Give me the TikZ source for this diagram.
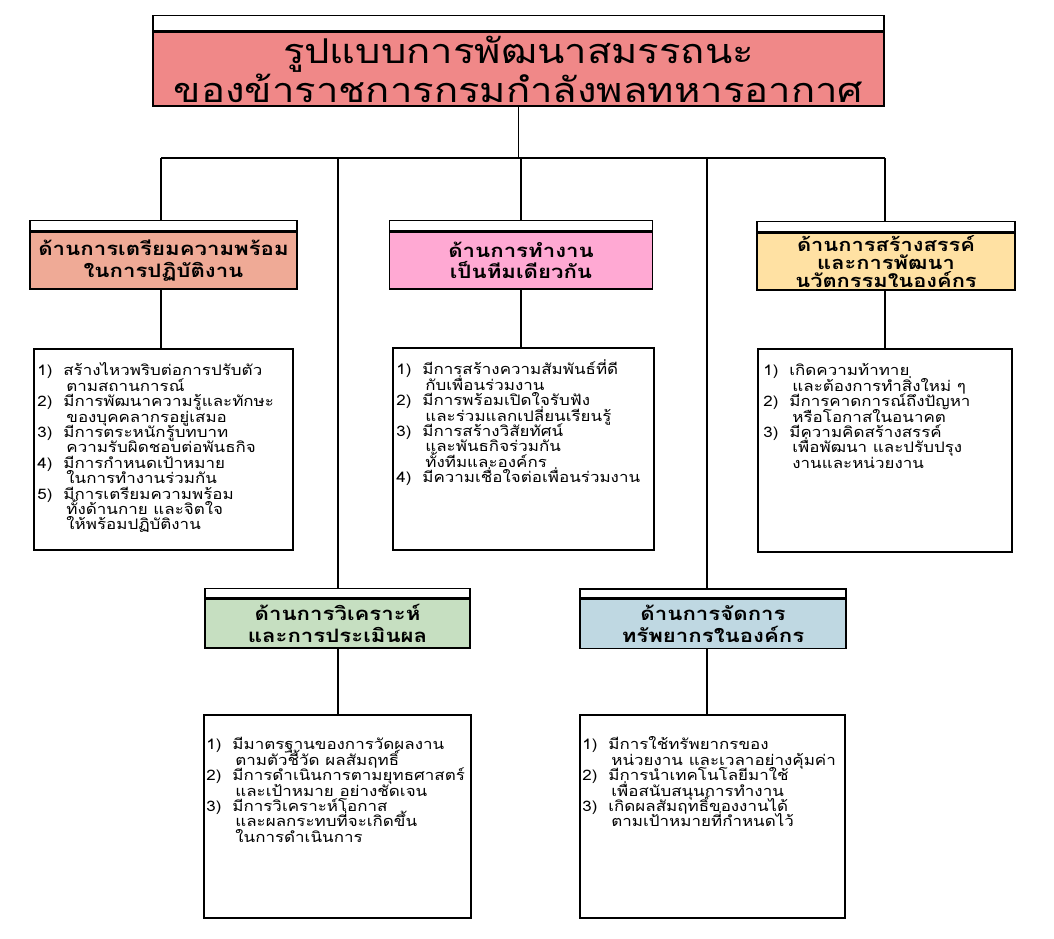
\documentclass[tikz,border=0pt]{standalone}
\usepackage{fontspec}
\setmainfont{Loma}[Script=Thai]
\newfontfamily\titleloma{Loma}[Script=Thai,FakeStretch=1.17]
\newfontfamily\wideloma{Loma}[Script=Thai,FakeStretch=1.2]
\newfontfamily\listloma{Loma}[Script=Thai,FakeStretch=1.17]
\usetikzlibrary{calc}
\definecolor{ctitle}{HTML}{F08888}
\definecolor{cone}{HTML}{EFAA96}
\definecolor{ctwo}{HTML}{FFA9D3}
\definecolor{cthree}{HTML}{FFE1A3}
\definecolor{cfour}{HTML}{C6DFC1}
\definecolor{cfive}{HTML}{BFD8E2}
\newcommand{\titlefont}{\titleloma\fontsize{34.2}{39}\selectfont\lineskiplimit=-50pt}
\newcommand{\hdrfont}{\wideloma\bfseries\fontsize{18.5}{21.5}\selectfont\lineskiplimit=-50pt}
\newcommand{\hdrfontc}{\wideloma\bfseries\fontsize{18.2}{17.6}\selectfont\lineskiplimit=-50pt}
\newcommand{\listfont}{\listloma\fontsize{14.5}{15.4}\selectfont\lineskiplimit=-50pt}
\newcommand{\itemno}[2]{\makebox[26pt][l]{#1}#2}
\newcommand{\contl}[1]{\hspace*{29pt}#1}
\newcommand{\firstl}{\rule{0pt}{15.5pt}}
\tikzset{
  box/.style={draw=black, line width=1.6pt, rectangle, inner sep=0pt},
  hdr/.style={box, align=center, font=\hdrfont},
  strip/.style={box, fill=white, anchor=south, minimum height=10pt},
  listbox/.style={box, fill=white},
  listtext/.style={anchor=north west, align=left, inner sep=0pt, font=\listfont},
  conn/.style={line width=1.6pt},
}
\begin{document}
\begin{tikzpicture}[x=1pt,y=-1pt]
\useasboundingbox (0,0) rectangle (1054,938);
% title
\node[box, fill=ctitle, minimum width=731pt, minimum height=74pt, align=center, font=\titlefont] (title) at (518.5,69) {รูปแบบการพัฒนาสมรรถนะ\\ของข้าราชการกรมกำลังพลทหารอากาศ};
\node[strip, minimum width=731pt, minimum height=15pt] (stitle) at (title.north) {};
% bus
\coordinate (busL) at (161,158);
\coordinate (busR) at (885,158);
\coordinate (busd) at (338,158);
\coordinate (buse) at (707,158);
% headers
\node[hdr, fill=cone, minimum width=267pt, minimum height=57pt] (h1) at (163.5,260.5) {ด้านการเตรียมความพร้อม\\ในการปฏิบัติงาน};
\node[strip, minimum width=267pt] (s1) at (h1.north) {};
\node[hdr, fill=ctwo, minimum width=263pt, minimum height=57pt] (h2) at (521,260.5) {ด้านการทำงาน\\เป็นทีมเดียวกัน};
\node[strip, minimum width=263pt] (s2) at (h2.north) {};
\node[hdr, fill=cthree, minimum width=258pt, minimum height=57pt, font=\hdrfontc] (h3) at (886,261.5) {ด้านการสร้างสรรค์\\และการพัฒนา\\นวัตกรรมในองค์กร};
\node[strip, minimum width=258pt] (s3) at (h3.north) {};
\node[hdr, fill=cfour, minimum width=265pt, minimum height=49pt] (h4) at (337.5,623.5) {ด้านการวิเคราะห์\\และการประเมินผล};
\node[strip, minimum width=265pt, minimum height=9pt] (s4) at (h4.north) {};
\node[hdr, fill=cfive, minimum width=266pt, minimum height=49pt] (h5) at (713,624) {ด้านการจัดการ\\ทรัพยากรในองค์กร};
\node[strip, minimum width=266pt, minimum height=9pt] (s5) at (h5.north) {};
% list boxes
\node[listbox, minimum width=259pt, minimum height=201pt] (l1) at (163.5,449.5) {};
\node[listbox, minimum width=261pt, minimum height=202pt] (l2) at (523.5,449) {};
\node[listbox, minimum width=254pt, minimum height=203pt] (l3) at (885,450.5) {};
\node[listbox, minimum width=267pt, minimum height=203pt] (l4) at (337.5,816.5) {};
\node[listbox, minimum width=265pt, minimum height=203pt] (l5) at (712.5,816.5) {};
% list texts
\node[listtext] (t1) at ($(l1.north west)+(4,12)$) {%
\firstl\itemno{1)}{สร้างไหวพริบต่อการปรับตัว}\\
\contl{ตามสถานการณ์}\\
\itemno{2)}{มีการพัฒนาความรู้และทักษะ}\\
\contl{ของบุคคลากรอยู่เสมอ}\\
\itemno{3)}{มีการตระหนักรู้บทบาท}\\
\contl{ความรับผิดชอบต่อพันธกิจ}\\
\itemno{4)}{มีการกำหนดเป้าหมาย}\\
\contl{ในการทำงานร่วมกัน}\\
\itemno{5)}{มีการเตรียมความพร้อม}\\
\contl{ทั้งด้านกาย และจิตใจ}\\
\contl{ให้พร้อมปฏิบัติงาน}};
\node[listtext] (t2) at ($(l2.north west)+(4,12)$) {%
\firstl\itemno{1)}{มีการสร้างความสัมพันธ์ที่ดี}\\
\contl{กับเพื่อนร่วมงาน}\\
\itemno{2)}{มีการพร้อมเปิดใจรับฟัง}\\
\contl{และร่วมแลกเปลี่ยนเรียนรู้}\\
\itemno{3)}{มีการสร้างวิสัยทัศน์}\\
\contl{และพันธกิจร่วมกัน}\\
\contl{ทั้งทีมและองค์กร}\\
\itemno{4)}{มีความเชื่อใจต่อเพื่อนร่วมงาน}};
\node[listtext] (t3) at ($(l3.north west)+(6,12)$) {%
\firstl\itemno{1)}{เกิดความท้าทาย}\\
\contl{และต้องการทำสิ่งใหม่ ๆ}\\
\itemno{2)}{มีการคาดการณ์ถึงปัญหา}\\
\contl{หรือโอกาสในอนาคต}\\
\itemno{3)}{มีความคิดสร้างสรรค์}\\
\contl{เพื่อพัฒนา และปรับปรุง}\\
\contl{งานและหน่วยงาน}};
\node[listtext] (t4) at ($(l4.north west)+(3,20)$) {%
\firstl\itemno{1)}{มีมาตรฐานของการวัดผลงาน}\\
\contl{ตามตัวชี้วัด ผลสัมฤทธิ์}\\
\itemno{2)}{มีการดำเนินการตามยุทธศาสตร์}\\
\contl{และเป้าหมาย อย่างชัดเจน}\\
\itemno{3)}{มีการวิเคราะห์โอกาส}\\
\contl{และผลกระทบที่จะเกิดขึ้น}\\
\contl{ในการดำเนินการ}};
\node[listtext] (t5) at ($(l5.north west)+(3,20)$) {%
\firstl\itemno{1)}{มีการใช้ทรัพยากรของ}\\
\contl{หน่วยงาน และเวลาอย่างคุ้มค่า}\\
\itemno{2)}{มีการนำเทคโนโลยีมาใช้}\\
\contl{เพื่อสนับสนุนการทำงาน}\\
\itemno{3)}{เกิดผลสัมฤทธิ์ของงานได้}\\
\contl{ตามเป้าหมายที่กำหนดไว้}};
% connectors
\draw[conn] (title.south) -- (title.south |- busL);
\draw[conn] (busL) -- (busR);
\draw[conn] (s1.north -| busL) -- (busL);
\draw[conn] (s2.north) -- (s2.north |- busL);
\draw[conn] (s3.north -| busR) -- (busR);
\draw[conn] (s4.north -| busd) -- (busd);
\draw[conn] (s5.north -| buse) -- (buse);
\draw[conn] (h1.south -| busL) -- (l1.north -| busL);
\draw[conn] (h2.south) -- (h2.south |- l2.north);
\draw[conn] (h3.south -| busR) -- (l3.north -| busR);
\draw[conn] (h4.south -| busd) -- (l4.north -| busd);
\draw[conn] (h5.south -| buse) -- (l5.north -| buse);
\end{tikzpicture}
\end{document}
